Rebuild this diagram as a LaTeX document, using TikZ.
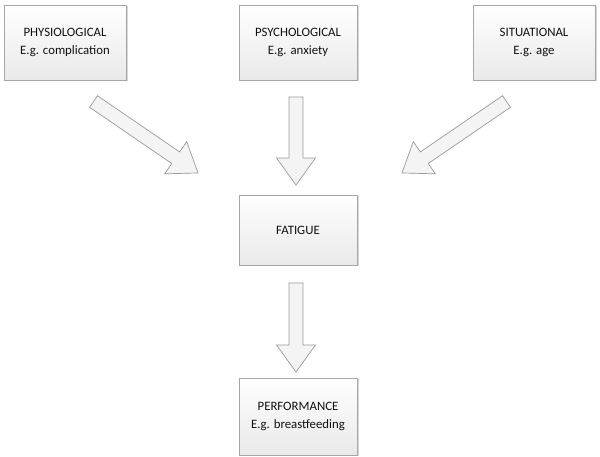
\documentclass[tikz,border=0pt]{standalone}
\usepackage{fontspec}
\setmainfont{Carlito}
\usetikzlibrary{shadows}
\definecolor{boxline}{HTML}{A6A6A6}
\definecolor{boxtop}{HTML}{FFFFFF}
\definecolor{boxbot}{HTML}{E9E9E9}
\definecolor{arrfill}{HTML}{F4F4F4}
\definecolor{arrline}{HTML}{9A9A9A}
\definecolor{txt}{HTML}{111111}
\tikzset{
  factorbox/.style={draw=boxline, line width=0.8pt, top color=boxtop, bottom color=boxbot,
    align=center, font=\fontsize{12.8}{18}\selectfont, text=txt, inner sep=0pt,
    drop shadow={shadow xshift=1.5pt, shadow yshift=-1.5pt, opacity=0.25, fill=black!60}},
  blockarrow/.style={draw=arrline, line width=0.7pt, fill=arrfill, line join=miter}
}
\newcommand\fatarrow[4]{% x, y, angle, length
  \begin{scope}[shift={(#1,#2)}, rotate=#3]
    \draw[blockarrow] (0,-7) -- (#4-27,-7) -- (#4-27,-19.5) -- (#4,0) -- (#4-27,19.5) -- (#4-27,7) -- (0,7) -- cycle;
  \end{scope}}
\begin{document}
\begin{tikzpicture}[x=1pt,y=1pt]
\useasboundingbox (0,0) rectangle (600,457);
\node[factorbox, minimum width=122, minimum height=75] (phys) at (65,414.5) {PHYSIOLOGICAL\\E.g. complication};
\node[factorbox, minimum width=118, minimum height=75] (psych) at (298,414.5) {PSYCHOLOGICAL\\E.g. anxiety};
\node[factorbox, minimum width=122, minimum height=75] (sit) at (534,414.5) {SITUATIONAL\\E.g. age};
\node[factorbox, minimum width=118, minimum height=70] (fat) at (298,227) {FATIGUE};
\node[factorbox, minimum width=118, minimum height=77] (perf) at (298,40.5) {PERFORMANCE\\E.g. breastfeeding};
% block arrows
\fatarrow{93.5}{355.5}{-34.38}{126.6}
\fatarrow{296}{360}{-90}{88}
\fatarrow{506.5}{355.5}{-145.62}{126.6}
\fatarrow{296}{174}{-90}{89}
\end{tikzpicture}
\end{document}
